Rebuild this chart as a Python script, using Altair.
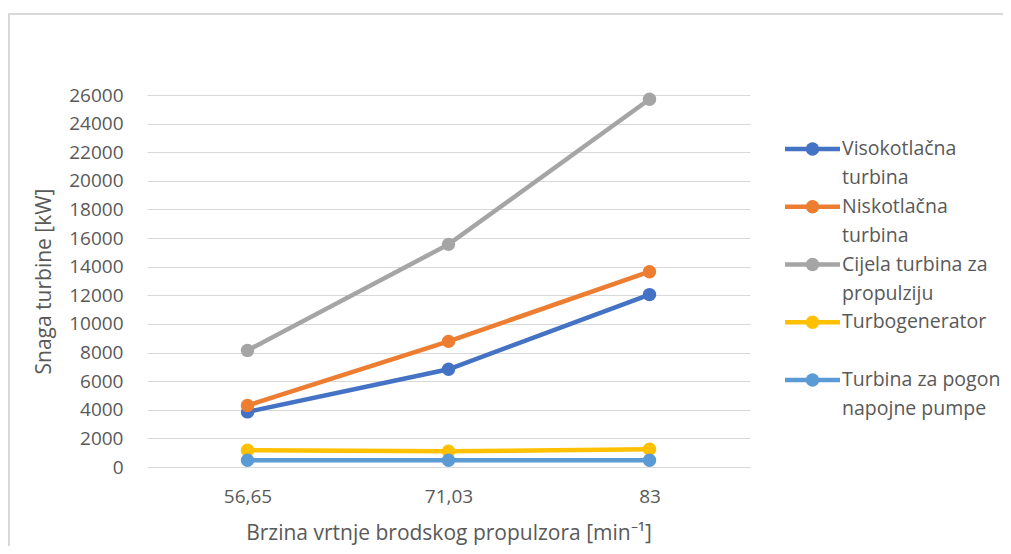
import altair as alt
import pandas as pd

# ---- data ----
rpm = ["56,65", "71,03", "83"]
series = [
    "Visokotlačna turbina",
    "Niskotlačna turbina",
    "Cijela turbina za propulziju",
    "Turbogenerator",
    "Turbina za pogon napojne pumpe",
]
visokotlacna = [3850, 6830, 12050]
niskotlacna = [4300, 8780, 13650]
cijela = [8150, 15560, 25700]
turbogenerator = [1170, 1100, 1240]
napojna = [470, 470, 470]
legend_line1 = ["Visokotlačna", "Niskotlačna", "Cijela turbina za", "Turbogenerator", "Turbina za pogon"]
legend_line2 = ["turbina", "turbina", "propulziju", "", "napojne pumpe"]
colors = ["#4472C4", "#ED7D31", "#A5A5A5", "#FFC000", "#5B9BD5"]
y_ticks = list(range(0, 26001, 2000))

values = [visokotlacna, niskotlacna, cijela, turbogenerator, napojna]
rows = []
for s, vals in zip(series, values):
    for r, v in zip(rpm, vals):
        rows.append({"series": s, "rpm": r, "power": v})
df = pd.DataFrame(rows)

leg = pd.DataFrame({
    "series": series,
    "row": list(range(len(series))),
    "line1": legend_line1,
    "line2": legend_line2,
})

FONT = "Open Sans"
TXT = "#595959"

color = alt.Color("series:N", scale=alt.Scale(domain=series, range=colors), legend=None)
x = alt.X("rpm:N", sort=rpm,
          scale=alt.Scale(type="point", padding=0.5),
          axis=alt.Axis(title="Brzina vrtnje brodskog propulzora [min⁻¹]",
                        labelAngle=0, labelFontSize=19, labelColor=TXT, labelFont=FONT,
                        labelPadding=20, ticks=False, domain=False, grid=False,
                        titleFont=FONT, titleFontSize=21, titleColor=TXT,
                        titleFontWeight="normal", titlePadding=16))
y = alt.Y("power:Q", scale=alt.Scale(domain=[0, 26000], nice=False),
          axis=alt.Axis(title="Snaga turbine [kW]", values=y_ticks, format="d",
                        labelFontSize=19, labelColor=TXT, labelFont=FONT,
                        labelPadding=24, ticks=False, domain=False,
                        gridColor="#d9d9d9", gridWidth=1.2,
                        titleFont=FONT, titleFontSize=21, titleColor=TXT,
                        titleFontWeight="normal", titlePadding=14))

base = alt.Chart(df)
lines = base.mark_line(strokeWidth=4.5).encode(x=x, y=y, color=color, detail="series:N")
points = base.mark_point(filled=True, size=180, opacity=1).encode(x=x, y=y, color=color)
main = alt.layer(lines, points)

ly = alt.Y("row:O", scale=alt.Scale(type="point", domain=list(range(len(series))),
                                     range=[54, 285], padding=0), axis=None)
lbase = alt.Chart(leg)
lrule = lbase.mark_rule(strokeWidth=4.5).encode(
    x=alt.value(638), x2=alt.value(693), y=ly, color=color)
lpt = lbase.mark_point(filled=True, size=180, opacity=1).encode(
    x=alt.value(665.5), y=ly, color=color)
ltxt1 = lbase.mark_text(align="left", baseline="middle", font=FONT, fontSize=19.5,
                        color=TXT).encode(x=alt.value(695), y=ly, text="line1:N")
ltxt2 = lbase.mark_text(align="left", baseline="middle", font=FONT, fontSize=19.5,
                        color=TXT, dy=29).encode(x=alt.value(695), y=ly, text="line2:N")
legend = alt.layer(lrule, lpt, ltxt1, ltxt2)

border = alt.Chart(alt.Data(values=[{"a": 1}])).mark_rect(
    fillOpacity=0, stroke="#d9d9d9", strokeWidth=2).encode(
    x=alt.value(-138), x2=alt.value(900), y=alt.value(-81), y2=alt.value(520))

chart = alt.layer(main, legend, border).resolve_scale(y="independent").properties(
    width=603, height=372,
    autosize=alt.AutoSizeParams(type="none"),
    padding={"left": 139, "top": 87, "right": 253, "bottom": 79},
    background="white",
).configure_view(stroke=None)

chart.save("out.html", embed_options={"renderer": "svg", "actions": False})
